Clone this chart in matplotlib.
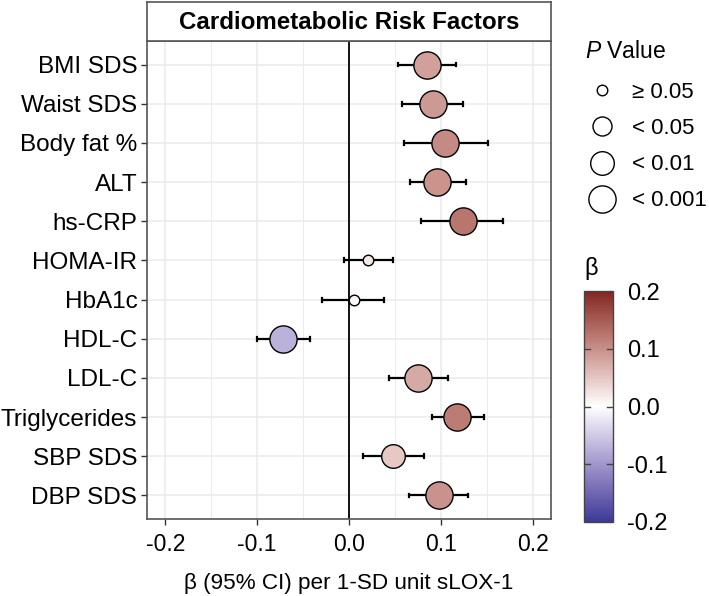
import numpy as np
import matplotlib
matplotlib.use("Agg")
import matplotlib.pyplot as plt
from matplotlib.colors import ListedColormap, Normalize
from matplotlib.lines import Line2D

plt.rcParams['font.family'] = ['Liberation Sans', 'DejaVu Sans']
plt.rcParams['mathtext.fontset'] = 'custom'
plt.rcParams['mathtext.it'] = 'Liberation Sans:italic'
plt.rcParams['mathtext.rm'] = 'Liberation Sans'

# ---------------- data ----------------
factors = ["BMI SDS", "Waist SDS", "Body fat %", "ALT", "hs-CRP", "HOMA-IR",
           "HbA1c", "HDL-C", "LDL-C", "Triglycerides", "SBP SDS", "DBP SDS"]
beta = [0.085, 0.091, 0.105, 0.096, 0.124, 0.021, 0.005, -0.072, 0.075, 0.118, 0.048, 0.098]
ci_low = [0.053, 0.058, 0.060, 0.066, 0.078, -0.005, -0.029, -0.100, 0.044, 0.090, 0.015, 0.065]
ci_high = [0.116, 0.124, 0.151, 0.127, 0.168, 0.048, 0.038, -0.043, 0.108, 0.147, 0.082, 0.130]
p_cat = ["< 0.001", "< 0.001", "< 0.001", "< 0.001", "< 0.001", "≥ 0.05",
         "≥ 0.05", "< 0.001", "< 0.001", "< 0.001", "< 0.01", "< 0.001"]
p_levels = ["≥ 0.05", "< 0.05", "< 0.01", "< 0.001"]
x_ticks = [-0.2, -0.1, 0.0, 0.1, 0.2]
cbar_ticks = [-0.2, -0.1, 0.0, 0.1, 0.2]

# marker diameters (points) per P level
size_pt = {"≥ 0.05": 7.6, "< 0.05": 13.7, "< 0.01": 17.0, "< 0.001": 19.6}

# ------------- Lab gradient (ggplot scale_fill_gradient2 style) -------------
def hex2rgb(h):
    h = h.lstrip('#')
    return np.array([int(h[i:i+2], 16) / 255 for i in (0, 2, 4)])

def srgb_to_lin(c):
    return np.where(c <= 0.04045, c / 12.92, ((c + 0.055) / 1.055) ** 2.4)

def lin_to_srgb(c):
    c = np.clip(c, 0, 1)
    return np.where(c <= 0.0031308, 12.92 * c, 1.055 * c ** (1 / 2.4) - 0.055)

M = np.array([[0.4124, 0.3576, 0.1805], [0.2126, 0.7152, 0.0722], [0.0193, 0.1192, 0.9505]])
Minv = np.linalg.inv(M)
WP = M @ np.ones(3)

def f(t):
    d = 6 / 29
    return np.where(t > d ** 3, np.cbrt(t), t / (3 * d * d) + 4 / 29)

def finv(t):
    d = 6 / 29
    return np.where(t > d, t ** 3, 3 * d * d * (t - 4 / 29))

def rgb2lab(rgb):
    xyz = M @ srgb_to_lin(rgb) / WP
    fx, fy, fz = f(xyz)
    return np.array([116 * fy - 16, 500 * (fx - fy), 200 * (fy - fz)])

def lab2rgb(lab):
    L, a, b = lab
    fy = (L + 16) / 116
    fx = fy + a / 500
    fz = fy - b / 200
    xyz = np.array([finv(fx), finv(fy), finv(fz)]) * WP
    return lin_to_srgb(Minv @ xyz)

low, mid, high = rgb2lab(hex2rgb("#3A3A98")), rgb2lab(hex2rgb("#FFFFFF")), rgb2lab(hex2rgb("#832424"))
cols = []
for t in np.linspace(0, 1, 256):
    if t < 0.5:
        u = t / 0.5
        lab = low + (mid - low) * u
    else:
        u = (t - 0.5) / 0.5
        lab = mid + (high - mid) * u
    cols.append(np.clip(lab2rgb(lab), 0, 1))
cmap = ListedColormap(cols)
norm = Normalize(-0.2, 0.2)

# ---------------- figure ----------------
W, H = 709, 596
fig = plt.figure(figsize=(W / 100, H / 100), dpi=100)

def fx_(px):
    return px / W

def fy_(py):
    return 1 - py / H

pl, pr, pt, pb = 147, 551, 41, 519
ax = fig.add_axes([fx_(pl), fy_(pb), (pr - pl) / W, (pb - pt) / H])

n = len(factors)
ypos = np.arange(n)[::-1] + 1
ax.set_xlim(-0.22, 0.22)
ax.set_ylim(0.4, n + 0.6)

# grid
for xv in np.arange(-0.2, 0.21, 0.05):
    ax.axvline(xv, color='#EBEBEB', lw=1.1 if abs(round(xv / 0.1) * 0.1 - xv) < 1e-9 else 0.7, zorder=0)
for yv in ypos:
    ax.axhline(yv, color='#EBEBEB', lw=1.1, zorder=0)
ax.axvline(0, color='black', lw=1.3, zorder=1)

for i in range(n):
    ax.plot([ci_low[i], ci_high[i]], [ypos[i], ypos[i]], color='black', lw=1.6, zorder=2,
            solid_capstyle='butt')
    for xc in (ci_low[i], ci_high[i]):
        ax.plot([xc, xc], [ypos[i] - 0.05, ypos[i] + 0.05], color='black', lw=1.6, zorder=2)
    ax.plot(beta[i], ypos[i], 'o', ms=size_pt[p_cat[i]], mfc=cmap(norm(beta[i])),
            mec='black', mew=1.0, zorder=3)

ax.set_xticks(x_ticks)
ax.set_xticklabels([f"{v:.1f}" for v in x_ticks])
ax.set_yticks(ypos)
ax.set_yticklabels(factors)
ax.tick_params(axis='both', colors='#333333', labelcolor='black', length=4, width=1)
ax.tick_params(axis='x', labelsize=16.5, pad=6)
ax.tick_params(axis='y', labelsize=17.5, pad=3)
for s in ax.spines.values():
    s.set_color('#555555')
    s.set_linewidth(1.2)
ax.set_xlabel("β (95% CI) per 1-SD unit sLOX-1", fontsize=16.2, labelpad=12)

# strip
sax = fig.add_axes([fx_(pl), fy_(pt), (pr - pl) / W, (pt - 2) / H])
sax.set_xticks([]); sax.set_yticks([])
for s in sax.spines.values():
    s.set_color('#555555')
    s.set_linewidth(1.2)
sax.text(0.5, 0.48, "Cardiometabolic Risk Factors", ha='center', va='center',
         fontsize=17.4, fontweight='bold', transform=sax.transAxes)

# size legend
fig.text(fx_(585), fy_(51), r"$\mathit{P}$ Value", fontsize=16.5, ha='left', va='center')
handles = [Line2D([], [], ls='none', marker='o', ms=size_pt[l], mfc='white', mec='black', mew=1.0)
           for l in p_levels]
leg = fig.legend(handles, p_levels, loc='upper left', bbox_to_anchor=(fx_(573), fy_(71)),
                 frameon=False, fontsize=16.0, handletextpad=0.55, labelspacing=0.68,
                 borderpad=0, handlelength=1.6)

# colorbar
cax = fig.add_axes([fx_(584), fy_(522), 29 / W, 231 / H])
sm = matplotlib.cm.ScalarMappable(norm=norm, cmap=cmap)
cb = fig.colorbar(sm, cax=cax, ticks=cbar_ticks)
cb.ax.set_yticklabels([f"{v:.1f}" for v in cbar_ticks])
cb.ax.tick_params(labelsize=17, length=0, pad=10)
cb.outline.set_edgecolor('#444444')
cb.outline.set_linewidth(1.0)
for v in cbar_ticks[1:-1]:
    cax.plot([0, 0.2], [v, v], color='#444444', lw=1, transform=cax.get_yaxis_transform())
    cax.plot([0.8, 1], [v, v], color='#444444', lw=1, transform=cax.get_yaxis_transform())
fig.text(fx_(584), fy_(268), "β", fontsize=17, ha='left', va='center')

fig.savefig("out.png", dpi=100)
